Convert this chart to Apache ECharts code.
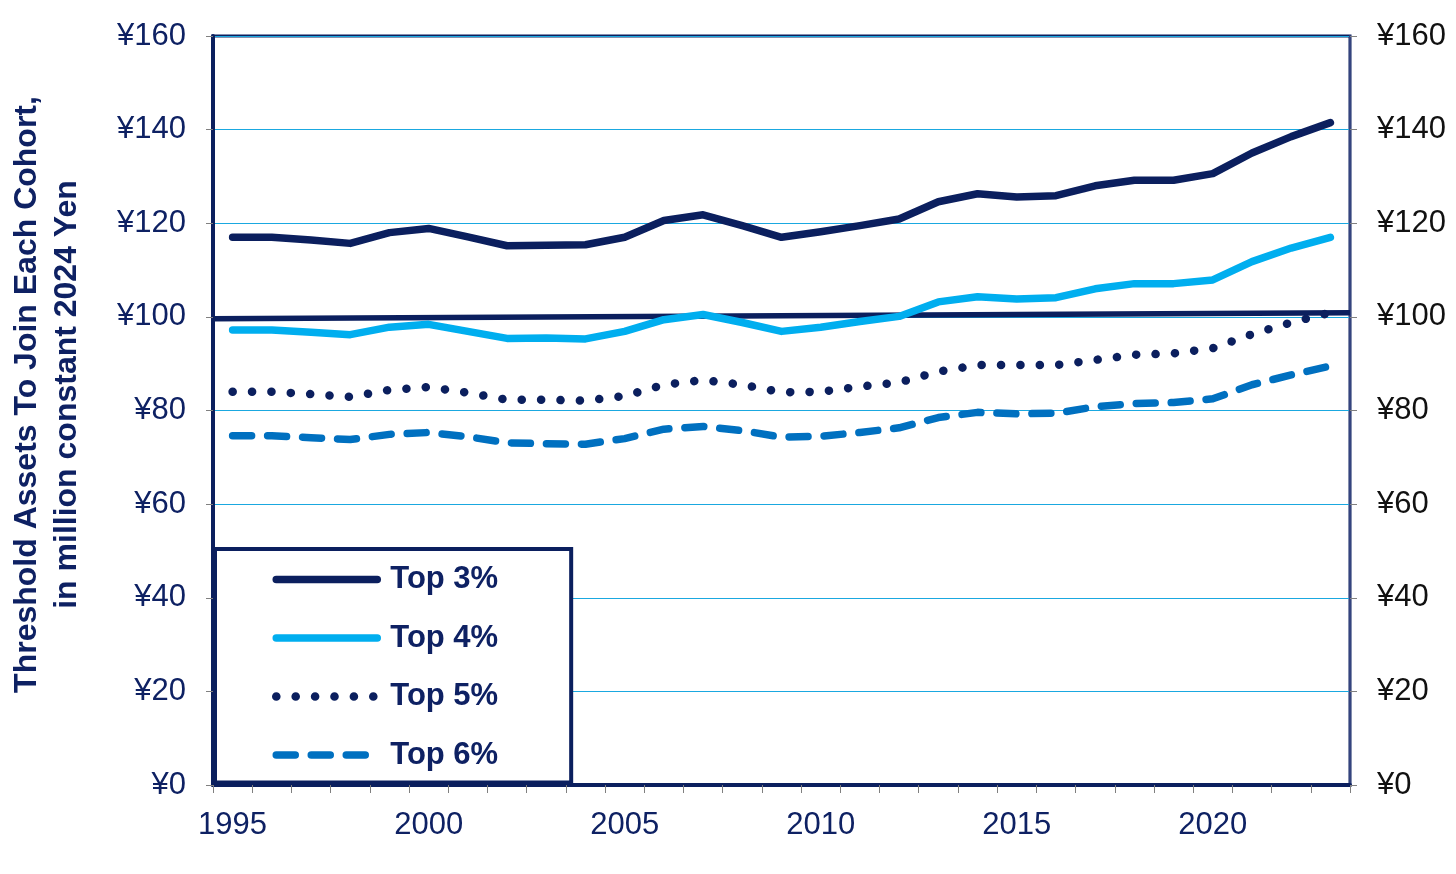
<!DOCTYPE html>
<html>
<head>
<meta charset="utf-8">
<script src="https://cdn.jsdelivr.net/npm/echarts@6/dist/echarts.min.js"></script>
<style>
html,body{margin:0;padding:0;background:#fff;}
#chart{width:1456px;height:874px;}
</style>
</head>
<body>
<div id="chart"></div>
<script>
const years = ['1995','1996','1997','1998','1999','2000','2001','2002','2003','2004','2005','2006','2007','2008','2009','2010','2011','2012','2013','2014','2015','2016','2017','2018','2019','2020','2021','2022','2023'];
const top3 = [117.0,117.0,116.4,115.7,118.0,118.9,117.1,115.2,115.3,115.4,117.0,120.6,121.8,119.5,117.0,118.2,119.5,120.9,124.6,126.3,125.6,125.9,128.0,129.2,129.2,130.6,135.0,138.5,141.5];
const top4 = [97.2,97.2,96.7,96.2,97.8,98.4,96.9,95.4,95.5,95.3,96.9,99.4,100.5,98.8,96.9,97.8,99.0,100.1,103.2,104.3,103.8,104.1,106.0,107.1,107.1,107.9,111.8,114.7,117.0];
const top5 = [84.0,84.0,83.5,82.9,84.4,85.0,83.8,82.3,82.3,82.1,83.1,85.5,86.5,85.5,83.9,84.0,85.1,86.0,88.3,89.7,89.7,89.7,90.8,91.9,92.2,93.3,96.3,98.8,100.9];
const top6 = [74.6,74.6,74.2,73.8,74.9,75.3,74.4,73.1,72.9,72.8,74.0,76.0,76.6,75.7,74.3,74.5,75.3,76.3,78.5,79.6,79.3,79.4,80.8,81.5,81.7,82.5,85.5,87.6,89.5];
const refLine = [99.6, 100.9];
const yTicks = {min: 0, max: 160, interval: 20};
const seriesNames = ['Top 3%','Top 4%','Top 5%','Top 6%'];
const yTitle = 'Threshold Assets To Join Each Cohort,\nin million constant 2024 Yen';

const NAVY = '#0b1f5e';
const TEXTNAVY = '#0e2163';
const FONT = '"Liberation Sans", Arial, sans-serif';

const chart = echarts.init(document.getElementById('chart'));
chart.setOption({
  animation: false,
  backgroundColor: '#fff',
  grid: {left: 213, right: 106, top: 36, bottom: 89, show: true, borderColor: NAVY, borderWidth: 3, backgroundColor: 'transparent', containLabel: false, outerBoundsMode: 'none'},
  legend: {
    data: seriesNames,
    orient: 'vertical',
    left: 215, top: 549,
    padding: [15, 73, 12, 57],
    itemWidth: 101, itemHeight: 14, itemGap: 27.5,
    backgroundColor: '#fff', borderColor: NAVY, borderWidth: 4, borderRadius: 0,
    lineStyle: {width: 'inherit'},
    itemStyle: {opacity: 0},
    textStyle: {fontFamily: FONT, fontSize: 31, fontWeight: 'bold', color: TEXTNAVY, lineHeight: 30, padding: [0, 0, 0, 8]},
    selectedMode: false
  },
  xAxis: [{
    type: 'category', data: years, boundaryGap: true,
    axisLine: {lineStyle: {color: NAVY, width: 4}},
    axisTick: {show: true, interval: 0, alignWithLabel: false, length: 8, lineStyle: {color: '#808080', width: 1}},
    axisLabel: {interval: 4, margin: 25, fontFamily: FONT, fontSize: 31, color: TEXTNAVY},
    splitLine: {show: false}
  }, {
    type: 'value', min: 0, max: 1, show: false
  }],
  yAxis: [{
    type: 'value', position: 'left', min: yTicks.min, max: yTicks.max, interval: yTicks.interval,
    axisLine: {show: true, onZero: false, lineStyle: {color: NAVY, width: 4}},
    axisTick: {show: true, length: 7, lineStyle: {color: '#808080', width: 1}},
    axisLabel: {formatter: '¥{value}', margin: 27, fontFamily: FONT, fontSize: 31, color: TEXTNAVY},
    splitLine: {show: true, lineStyle: {color: '#1aa8e0', width: 1.2}},
    name: yTitle, nameLocation: 'middle', nameRotate: 90, nameGap: 126,
    nameTextStyle: {fontFamily: FONT, fontSize: 32, fontWeight: 'bold', color: TEXTNAVY, lineHeight: 40, align: 'center', padding: [0, 0, 0, 32]}
  }, {
    type: 'value', position: 'right', min: yTicks.min, max: yTicks.max, interval: yTicks.interval,
    axisLine: {show: true, onZero: false, lineStyle: {color: '#34447f', width: 2}},
    axisTick: {show: true, length: 7, lineStyle: {color: '#808080', width: 1}},
    axisLabel: {formatter: '¥{value}', margin: 27, fontFamily: FONT, fontSize: 31, color: '#111'},
    splitLine: {show: false}
  }],
  series: [
    {name: 'ref', type: 'line', xAxisIndex: 1, yAxisIndex: 0, data: [[0, refLine[0]], [1, refLine[1]]], symbol: 'none',
     lineStyle: {color: NAVY, width: 5.5}, z: 1, silent: true},
    {name: seriesNames[0], type: 'line', data: top3, symbol: 'none', lineStyle: {color: NAVY, width: 7.5, cap: 'round', join: 'round'}, itemStyle: {color: NAVY}, z: 3},
    {name: seriesNames[1], type: 'line', data: top4, symbol: 'none', lineStyle: {color: '#00aeef', width: 7.5, cap: 'round', join: 'round'}, itemStyle: {color: '#00aeef'}, z: 2},
    {name: seriesNames[2], type: 'line', data: top5, symbol: 'none', lineStyle: {color: NAVY, width: 8.5, type: [0.1, 19.3], cap: 'round', join: 'round'}, itemStyle: {color: NAVY}, z: 2},
    {name: seriesNames[3], type: 'line', data: top6, symbol: 'none', lineStyle: {color: '#0070c0', width: 7.5, type: [19, 16], cap: 'round', join: 'round'}, itemStyle: {color: '#0070c0'}, z: 2}
  ]
});
</script>
</body>
</html>
